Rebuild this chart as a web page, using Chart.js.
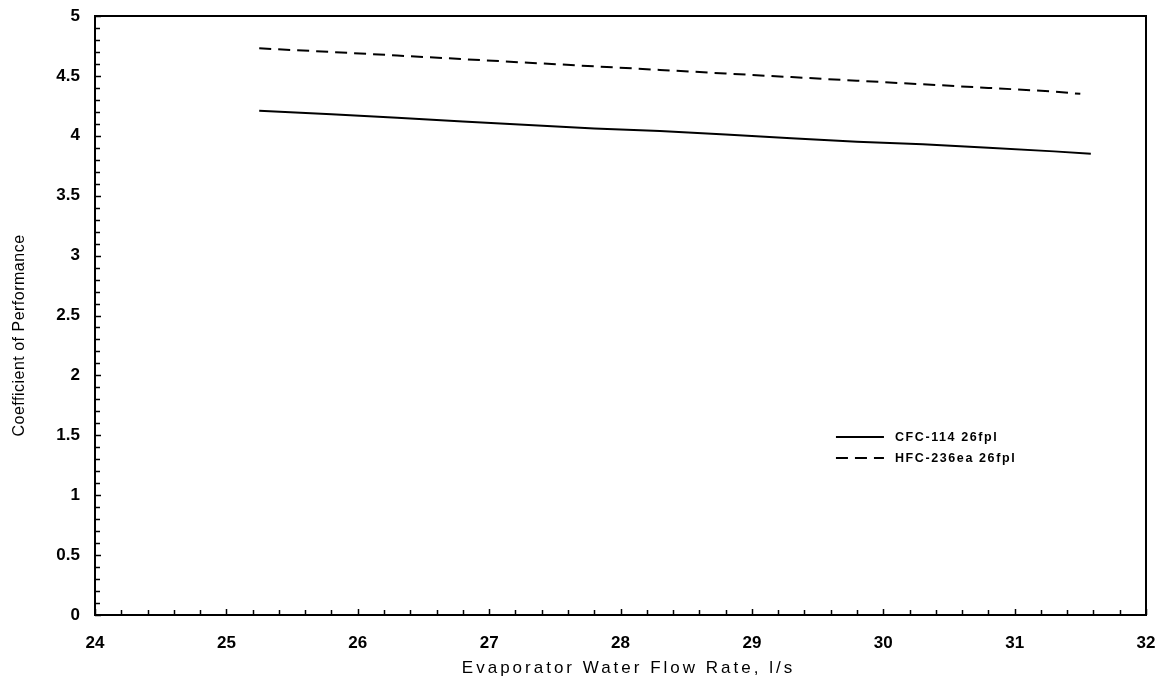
<!DOCTYPE html>
<html>
<head>
<meta charset="utf-8">
<script src="https://cdn.jsdelivr.net/npm/chart.js@4.4.1/dist/chart.umd.min.js"></script>
<style>
  html, body { margin: 0; padding: 0; background: #fff; }
  #wrap { width: 1161px; height: 694px; }
</style>
</head>
<body>
<div id="wrap"><canvas id="c" width="1161" height="694"></canvas></div>
<script>
// ---- data ----
const seriesLabels = ["CFC-114 26fpl", "HFC-236ea 26fpl"];
const cfcFlow = [25.25, 25.8, 26.3, 26.8, 27.3, 27.8, 28.3, 28.8, 29.3, 29.8, 30.3, 30.8, 31.3, 31.58];
const cfcCOP  = [4.21, 4.18, 4.15, 4.12, 4.09, 4.06, 4.04, 4.01, 3.98, 3.95, 3.93, 3.90, 3.87, 3.85];
const hfcFlow = [25.25, 25.8, 26.3, 26.8, 27.3, 27.8, 28.3, 28.8, 29.3, 29.8, 30.3, 30.8, 31.3, 31.5];
const hfcCOP  = [4.73, 4.70, 4.67, 4.64, 4.61, 4.58, 4.55, 4.52, 4.49, 4.46, 4.43, 4.40, 4.37, 4.35];
const xTicks = [24, 25, 26, 27, 28, 29, 30, 31, 32];
const yTicks = [0, 0.5, 1, 1.5, 2, 2.5, 3, 3.5, 4, 4.5, 5];
const xTitle = "Evaporator Water Flow Rate, l/s";
const yTitle = "Coefficient of Performance";

const toPts = (xs, ys) => xs.map((x, i) => ({ x: x, y: ys[i] }));

const framePlugin = {
  id: 'frame',
  afterDraw(chart) {
    const ctx = chart.ctx;
    const a = chart.chartArea;
    const xs = chart.scales.x, ys = chart.scales.y;
    ctx.save();
    ctx.strokeStyle = '#000';
    ctx.lineWidth = 2;
    ctx.strokeRect(a.left, a.top, a.right - a.left, a.bottom - a.top);
    // x ticks (inward)
    ctx.lineWidth = 1.5;
    const xmin = xTicks[0], xmax = xTicks[xTicks.length - 1];
    for (let i = 0; i <= (xmax - xmin) * 5; i++) {
      const v = xmin + i * 0.2;
      const px = Math.round(xs.getPixelForValue(v)) + 0.5;
      const len = (i % 5 === 0) ? 6 : 5;
      ctx.beginPath(); ctx.moveTo(px, a.bottom); ctx.lineTo(px, a.bottom - len); ctx.stroke();
    }
    // y ticks (inward)
    const ymin = yTicks[0], ymax = yTicks[yTicks.length - 1];
    for (let i = 0; i <= (ymax - ymin) * 10; i++) {
      const v = ymin + i * 0.1;
      const py = Math.round(ys.getPixelForValue(v)) + 0.5;
      const len = (i % 5 === 0) ? 6 : 5;
      ctx.beginPath(); ctx.moveTo(a.left, py); ctx.lineTo(a.left + len, py); ctx.stroke();
    }
    // axis titles
    ctx.fillStyle = '#000';
    ctx.font = '17px "Liberation Sans", Arial, sans-serif';
    ctx.letterSpacing = '3px';
    ctx.textAlign = 'center';
    ctx.textBaseline = 'middle';
    ctx.fillText(xTitle, (a.left + a.right) / 2 + 8, 668);
    ctx.save();
    ctx.font = '16px "Liberation Sans", Arial, sans-serif';
    ctx.translate(20, (a.top + a.bottom) / 2 + 20);
    ctx.rotate(-Math.PI / 2);
    ctx.letterSpacing = '0.5px';
    ctx.fillText(yTitle, 0, 0);
    ctx.restore();
    // legend
    const lx0 = a.left + (a.right - a.left) * 0.705;
    const lx1 = lx0 + 48;
    const ly = [437, 458];
    chart.data.datasets.forEach((ds, i) => {
      ctx.save();
      ctx.strokeStyle = '#000';
      ctx.lineWidth = ds.borderWidth;
      ctx.setLineDash(ds.borderDash || []);
      ctx.beginPath(); ctx.moveTo(lx0, ly[i]); ctx.lineTo(lx1, ly[i]); ctx.stroke();
      ctx.restore();
      ctx.font = 'bold 12.5px "Liberation Sans", Arial, sans-serif';
      ctx.letterSpacing = '1.6px';
      ctx.textAlign = 'left';
      ctx.fillText(ds.label, lx1 + 11, ly[i] + 1);
    });
    ctx.restore();
  }
};

const zeroPad = s => { s.paddingTop = 0; s.paddingBottom = 0; s.paddingLeft = 0; s.paddingRight = 0; };
const tickFont = { family: '"Liberation Sans", Arial, sans-serif', size: 17, weight: 'bold' };

new Chart(document.getElementById('c'), {
  type: 'scatter',
  data: {
    datasets: [
      { label: seriesLabels[0], data: toPts(cfcFlow, cfcCOP), showLine: true, borderColor: '#000', borderWidth: 2, pointRadius: 0, tension: 0 },
      { label: seriesLabels[1], data: toPts(hfcFlow, hfcCOP), showLine: true, borderColor: '#000', borderWidth: 2, borderDash: [12, 7], pointRadius: 0, tension: 0 }
    ]
  },
  options: {
    responsive: false,
    animation: false,
    events: [],
    layout: { padding: { left: 0, right: 15, top: 16, bottom: 0 } },
    plugins: { legend: { display: false }, tooltip: { enabled: false } },
    scales: {
      x: {
        type: 'linear', min: xTicks[0], max: xTicks[xTicks.length - 1],
        afterBuildTicks: s => { s.ticks = xTicks.map(v => ({ value: v })); },
        grid: { display: false, drawTicks: false },
        border: { display: false },
        ticks: { color: '#000', padding: 18, font: tickFont, maxRotation: 0, callback: v => String(v) },
        afterFit: s => { s.height = 79; zeroPad(s); }
      },
      y: {
        type: 'linear', min: yTicks[0], max: yTicks[yTicks.length - 1],
        afterBuildTicks: s => { s.ticks = yTicks.map(v => ({ value: v })); },
        grid: { display: false, drawTicks: false },
        border: { display: false },
        ticks: { color: '#000', padding: 15, font: tickFont, callback: v => String(v) },
        afterFit: s => { s.width = 95; zeroPad(s); }
      }
    }
  },
  plugins: [framePlugin]
});
</script>
</body>
</html>
